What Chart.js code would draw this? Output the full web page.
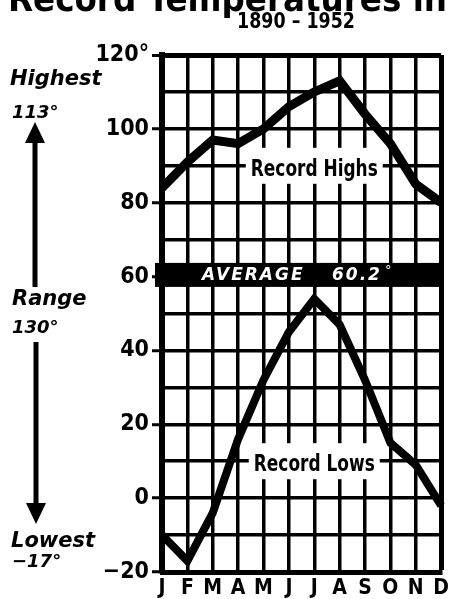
<!DOCTYPE html>
<html lang="en">
<head>
<meta charset="UTF-8">
<title>Record Temperatures 1890 - 1952</title>
<script src="https://cdn.jsdelivr.net/npm/chart.js"></script>
<style>
    html, body { margin: 0; padding: 0; background: #fff; }
    canvas { display: block; }
</style>
</head>
<body>
<canvas id="tempChart" width="453" height="599"></canvas>
<script>
    const months = ['J', 'F', 'M', 'A', 'M', 'J', 'J', 'A', 'S', 'O', 'N', 'D'];
    const recordHighs = [84, 91, 97, 96, 100, 106, 110, 113, 104, 96, 85, 80];
    const recordLows = [-10, -17, -4, 16, 32, 45, 54, 47, 32, 15, 9, -2];
    const yTicks = [-20, 0, 20, 40, 60, 80, 100, 120];
    const average = 60.2;
    const averageBand = [57.2, 63.7];
    const highest = 113;
    const lowest = -17;

    const NARROW = "'Liberation Sans Narrow', 'DejaVu Sans Condensed', sans-serif";
    const SANS = "'DejaVu Sans', sans-serif";

    // text squeezed to a given width (the print uses a very narrow face)
    function squeezedText(ctx, text, x, y, width, align) {
        const w = ctx.measureText(text).width;
        const k = Math.min(1, width / w);
        ctx.save();
        ctx.translate(x, y);
        ctx.scale(k, 1);
        ctx.textAlign = align || 'left';
        ctx.fillText(text, 0, 0);
        ctx.restore();
    }

    // black band for the yearly average, under the lines
    const averageBandPlugin = {
        id: 'averageBand',
        beforeDatasetsDraw(chart) {
            const { ctx, chartArea, scales: { y } } = chart;
            const top = y.getPixelForValue(averageBand[1]);
            const bottom = y.getPixelForValue(averageBand[0]);
            const mid = (top + bottom) / 2;
            ctx.save();
            ctx.fillStyle = '#000';
            ctx.fillRect(chartArea.left - 7, top, chartArea.right - chartArea.left + 9, bottom - top);
            ctx.fillStyle = '#fff';
            ctx.font = 'italic bold 17px ' + SANS;
            ctx.letterSpacing = '2px';
            ctx.textBaseline = 'middle';
            ctx.fillText('AVERAGE', 202, mid + 1);
            ctx.fillText(average.toFixed(1), 332, mid + 1);
            ctx.letterSpacing = '0px';
            ctx.font = '13px ' + SANS;
            ctx.fillText('°', 385, mid - 4);
            ctx.restore();

            // series names sitting on the grid
            const cx = chart.scales.x.getPixelForValue(6);
            boxedLabel(ctx, 'Record Highs', cx, y.getPixelForValue(90), 127);
            boxedLabel(ctx, 'Record Lows', cx, y.getPixelForValue(10), 121);
        }
    };

    function boxedLabel(ctx, text, cx, cy, width) {
        ctx.save();
        ctx.fillStyle = '#fff';
        ctx.fillRect(cx - width / 2 - 5, cy - 18, width + 10, 36);
        ctx.fillStyle = '#000';
        ctx.font = 'bold 23px ' + NARROW;
        ctx.textBaseline = 'middle';
        squeezedText(ctx, text, cx, cy + 4, width, 'center');
        ctx.restore();
    }

    function arrow(ctx, x, from, to) {
        const dir = to < from ? -1 : 1;
        const headLen = 21;
        ctx.fillRect(x - 2.5, Math.min(from, to - dir * headLen), 5, Math.abs(to - from) - headLen + 2);
        ctx.beginPath();
        ctx.moveTo(x, to);
        ctx.lineTo(x - 10, to - dir * headLen);
        ctx.lineTo(x + 10, to - dir * headLen);
        ctx.closePath();
        ctx.fill();
    }

    const annotationsPlugin = {
        id: 'annotations',
        afterDraw(chart) {
            const ctx = chart.ctx;
            ctx.save();
            ctx.fillStyle = '#000';

            // title, cut off at the top edge as in the print
            ctx.font = 'bold 36px ' + SANS;
            const title = 'Record Temperatures in';
            const tw = ctx.measureText(title).width;
            ctx.save();
            ctx.translate(8, 11);
            ctx.scale(439 / tw, 1);
            ctx.fillText(title, 0, 0);
            ctx.restore();

            ctx.font = 'bold 22px ' + NARROW;
            squeezedText(ctx, '1890 – 1952', 296, 28, 118, 'center');

            ctx.font = 'italic bold 21px ' + SANS;
            ctx.fillText('Highest', 10, 85);
            ctx.fillText('Range', 12, 305);
            ctx.fillText('Lowest', 11, 547);
            ctx.font = 'italic bold 18px ' + SANS;
            ctx.fillText(highest + '°', 12, 118);
            ctx.fillText((highest - lowest) + '°', 12, 333);
            ctx.fillText('−' + Math.abs(lowest) + '°', 12, 567);

            arrow(ctx, 35, 285, 122);
            arrow(ctx, 36, 342, 524);
            ctx.restore();
        }
    };

    new Chart(document.getElementById('tempChart'), {
        type: 'line',
        data: {
            labels: months,
            datasets: [{
                label: 'Record Highs',
                data: recordHighs,
                borderColor: '#000',
                borderWidth: 9,
                pointRadius: 0,
                tension: 0,
                fill: false
            }, {
                label: 'Record Lows',
                data: recordLows,
                borderColor: '#000',
                borderWidth: 8,
                pointRadius: 0,
                tension: 0,
                fill: false
            }]
        },
        options: {
            responsive: false,
            animation: false,
            devicePixelRatio: 1,
            layout: { padding: { top: 55, right: 6, left: 0, bottom: 0 } },
            plugins: {
                legend: { display: false },
                tooltip: { enabled: false }
            },
            scales: {
                x: {
                    offset: false,
                    grid: {
                        offset: false,
                        color: '#000',
                        lineWidth: ctx => ctx.index === months.length - 1 ? 5 : 3.5,
                        drawTicks: false
                    },
                    border: { color: '#000', width: 5 },
                    ticks: {
                        color: '#000',
                        font: { family: NARROW, size: 21, weight: 'bold' },
                        padding: 4,
                        autoSkip: false,
                        maxRotation: 0
                    },
                    afterFit: s => { s.height = 27; }
                },
                y: {
                    min: -20,
                    max: 120,
                    grid: {
                        color: '#000',
                        lineWidth: ctx => ctx.tick && ctx.tick.value === 120 ? 5 : 3.5,
                        tickLength: 10,
                        tickWidth: 3,
                        tickColor: ctx => yTicks.includes(ctx.tick.value) ? '#000' : 'rgba(0,0,0,0)'
                    },
                    border: { color: '#000', width: 6 },
                    ticks: {
                        stepSize: 10,
                        color: '#000',
                        font: { family: NARROW, size: 23, weight: 'bold' },
                        padding: 3,
                        callback: v => {
                            if (!yTicks.includes(v)) return '';
                            if (v === 120) return '120°';
                            if (v < 0) return '−' + Math.abs(v);
                            return String(v);
                        }
                    },
                    afterFit: s => { s.width = 162; }
                }
            }
        },
        plugins: [averageBandPlugin, annotationsPlugin]
    });
</script>
</body>
</html>
